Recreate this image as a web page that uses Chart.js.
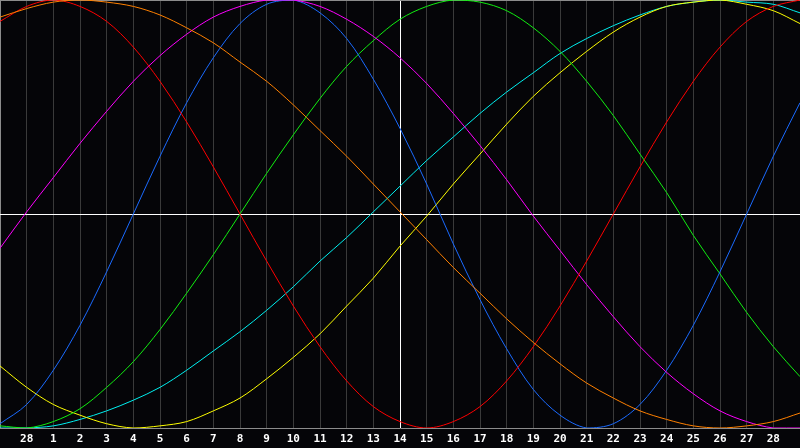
<!DOCTYPE html>
<html lang="en">
<head>
    <meta charset="UTF-8">
    <title>Biorhythm</title>
    <style>
        body {
            margin: 0;
            background: #050508;
        }
        #wrap {
            width: 800px;
            height: 448px;
        }
    </style>
    <script src="https://cdn.jsdelivr.net/npm/chart.js"></script>
</head>
<body>
    <div id="wrap"><canvas id="bioChart"></canvas></div>

    <script>
        // day labels under each grid line (first and last slot are the chart edges)
        let dayLabels = ['', '28', '1', '2', '3', '4', '5', '6', '7', '8', '9', '10', '11', '12', '13', '14',
            '15', '16', '17', '18', '19', '20', '21', '22', '23', '24', '25', '26', '27', '28', ''];

        // values in %, one per day slot
        let physical = [-98, -89, -73, -52, -27, 0, 27, 52, 73, 89, 98, 100, 94, 82, 63, 40, 14, -14, -40, -63, -82, -94, -100, -98, -89, -73, -52, -27, 0, 27, 52];
        let emotional = [90, 97, 100, 97, 90, 78, 62, 43, 22, 0, -22, -43, -62, -78, -90, -97, -100, -97, -90, -78, -62, -43, -22, 0, 22, 43, 62, 78, 90, 97, 100];
        let intellectual = [-99, -100, -97, -91, -81, -69, -54, -37, -19, 0, 19, 37, 54, 69, 81, 91, 97, 100, 99, 95, 87, 76, 62, 46, 28, 10, -10, -28, -46, -62, -76];
        let intuitive = [-16, 1, 17, 33, 48, 62, 74, 84, 92, 97, 100, 100, 97, 91, 83, 73, 61, 47, 32, 16, -1, -17, -33, -48, -62, -74, -84, -92, -97, -100, -100];
        let aesthetic = [-71, -81, -89, -94, -98, -100, -99, -97, -92, -86, -77, -67, -56, -43, -30, -15, -1, 14, 28, 42, 55, 66, 76, 85, 92, 97, 99, 100, 98, 95, 89];
        let awareness = [92, 96, 99, 100, 99, 97, 93, 87, 80, 71, 62, 51, 39, 27, 14, 1, -12, -25, -37, -49, -60, -70, -79, -86, -92, -96, -99, -100, -99, -97, -93];
        let spiritual = [-100, -100, -99, -96, -92, -87, -81, -73, -64, -55, -45, -34, -22, -11, 1, 13, 25, 36, 47, 57, 66, 75, 82, 88, 93, 97, 99, 100, 99, 98, 94];

        let todayIndex = 15;

        function line(data, color) {
            return {
                data: data,
                borderColor: color,
                borderWidth: 1,
                pointRadius: 0,
                tension: 0.33,
                fill: false
            };
        }

        // paint the dark background behind everything
        let darkBg = {
            id: 'darkBg',
            beforeDraw(chart) {
                let c = chart.ctx;
                c.save();
                c.fillStyle = '#050508';
                c.fillRect(0, 0, chart.width, chart.height);
                c.restore();
            }
        };

        let ctx = document.getElementById("bioChart").getContext("2d");
        let chart = new Chart(ctx, {
            type: "line",
            data: {
                labels: dayLabels,
                datasets: [
                    line(awareness, '#ff8000'),
                    line(emotional, '#ff0000'),
                    line(intuitive, '#ff00ff'),
                    line(physical, '#1a6aff'),
                    line(intellectual, '#10ee10'),
                    line(aesthetic, '#ffff00'),
                    line(spiritual, '#00f0f0')
                ]
            },
            options: {
                responsive: true,
                maintainAspectRatio: false,
                animation: false,
                layout: { padding: 0 },
                plugins: {
                    legend: { display: false },
                    tooltip: { enabled: false }
                },
                scales: {
                    x: {
                        offset: false,
                        afterFit: (axis) => {
                            axis.height = 20;
                            axis.paddingLeft = 0;
                            axis.paddingRight = 0;
                        },
                        border: { display: true, color: '#8c8c8c', width: 1 },
                        grid: {
                            offset: false,
                            drawTicks: false,
                            color: (c) => {
                                if (c.index === todayIndex) return '#ffffff';
                                if (c.index === 0 || c.index === dayLabels.length - 1) return '#8c8c8c';
                                return '#3a3a3a';
                            }
                        },
                        ticks: {
                            color: '#ffffff',
                            autoSkip: false,
                            maxRotation: 0,
                            padding: 5,
                            font: { family: 'DejaVu Sans Mono', size: 11, weight: 'bold' }
                        }
                    },
                    y: {
                        min: -100,
                        max: 100,
                        afterFit: (axis) => { axis.width = 0; },
                        border: { display: false },
                        grid: {
                            drawTicks: false,
                            color: (c) => {
                                if (c.tick.value === 0) return '#ffffff';
                                if (c.tick.value === 100) return '#8c8c8c';
                                return 'rgba(0,0,0,0)';
                            }
                        },
                        ticks: { display: false, stepSize: 100 }
                    }
                }
            },
            plugins: [darkBg]
        });
    </script>
</body>
</html>
